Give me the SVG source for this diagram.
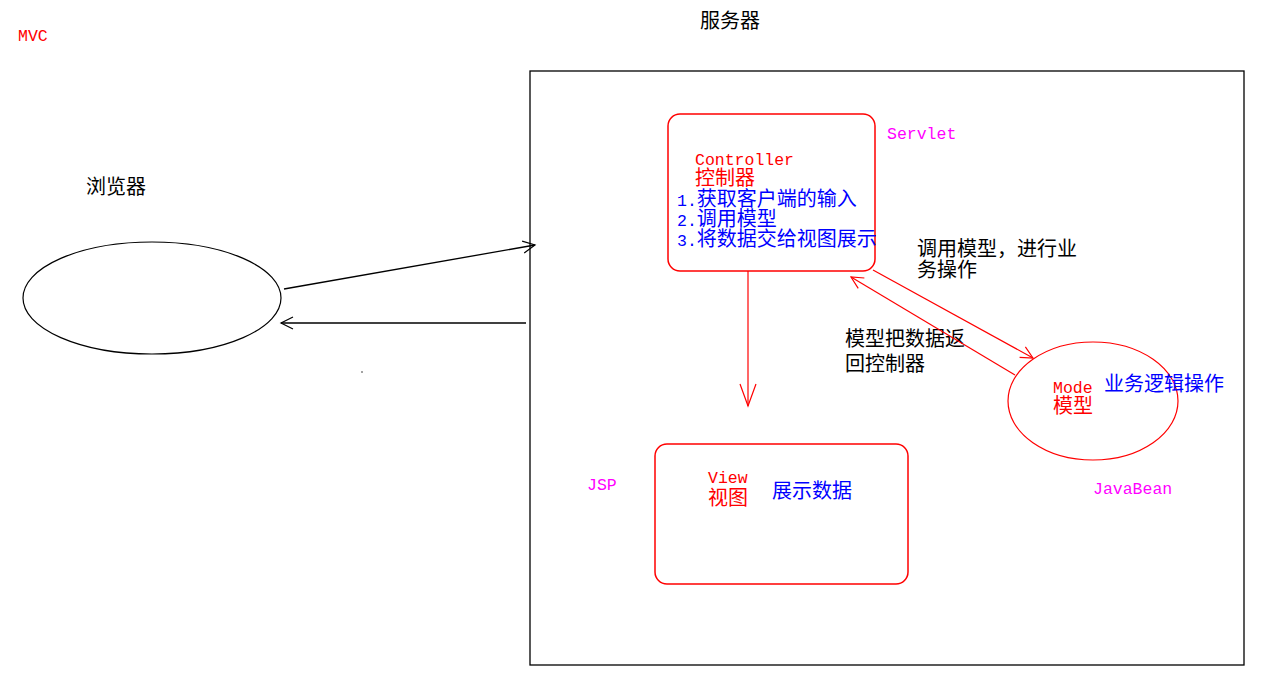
<svg xmlns="http://www.w3.org/2000/svg" width="1266" height="690" viewBox="0 0 1266 690">
<style>
.mono{font-family:"Liberation Mono","Noto Sans CJK SC",monospace;font-size:16.5px}
.cjk{font-family:"Noto Sans CJK SC","Liberation Sans",sans-serif;font-size:20px}
.red{fill:#ff0000}.blue{fill:#0000ff}.mag{fill:#ff00ff}.blk{fill:#000}
.rbox{fill:none;stroke:#ff0000;stroke-width:1.5}
.bl{stroke:#000;stroke-width:1.3;fill:none}
.rl{stroke:#ff0000;stroke-width:1.2;fill:none}
</style>
<defs>
<marker id="ab" markerUnits="userSpaceOnUse" markerWidth="20" markerHeight="20" refX="13" refY="7" orient="auto"><path d="M1,1 L13,7 L1,13" fill="none" stroke="#000" stroke-width="1.2"/></marker>
<marker id="ar" markerUnits="userSpaceOnUse" markerWidth="20" markerHeight="20" refX="13" refY="7" orient="auto"><path d="M1,1 L13,7 L1,13" fill="none" stroke="#ff0000" stroke-width="1.2"/></marker>
<marker id="arl" markerUnits="userSpaceOnUse" markerWidth="30" markerHeight="20" refX="23" refY="9" orient="auto"><path d="M1,1 L23,9 L1,17" fill="none" stroke="#ff0000" stroke-width="1.2"/></marker>
</defs>
<rect width="1266" height="690" fill="#fff"/>
<text class="mono red" x="18" y="41" font-size="15">MVC</text>
<text class="cjk blk" x="700" y="28">服务器</text>
<g id="server"><rect x="530" y="71" width="714" height="594" fill="none" stroke="#000" stroke-width="1.3"/></g>
<g id="browser">
<text class="cjk blk" x="86" y="194">浏览器</text>
<ellipse cx="152" cy="298" rx="129" ry="56" fill="none" stroke="#000" stroke-width="1.2"/>
</g>
<circle cx="362" cy="372" r="0.7" fill="#000"/>
<g id="controller">
<rect class="rbox" x="668" y="114" width="207" height="157" rx="12"/>
<text class="mono red" x="695" y="165">Controller</text>
<text class="cjk red" x="695" y="185">控制器</text>
<text class="cjk blue" x="677" y="206"><tspan class="mono">1.</tspan>获取客户端的输入</text>
<text class="cjk blue" x="677" y="226"><tspan class="mono">2.</tspan>调用模型</text>
<text class="cjk blue" x="677" y="246"><tspan class="mono">3.</tspan>将数据交给视图展示</text>
<text class="mono mag" x="887" y="139">Servlet</text>
</g>
<g id="view">
<rect class="rbox" x="655" y="444" width="253" height="140" rx="12"/>
<text class="mono red" x="708" y="483">View</text>
<text class="cjk red" x="708" y="505">视图</text>
<text class="cjk blue" x="772" y="498">展示数据</text>
<text class="mono mag" x="587" y="490">JSP</text>
</g>
<g id="model">
<ellipse cx="1093" cy="401" rx="85" ry="59" fill="none" stroke="#ff0000" stroke-width="1.2"/>
<text class="mono red" x="1053" y="393">Mode</text>
<text class="cjk red" x="1053" y="413">模型</text>
<text class="cjk blue" x="1104" y="391">业务逻辑操作</text>
<text class="mono mag" x="1093" y="494">JavaBean</text>
</g>
<g id="labels">
<text class="cjk blk" x="917" y="256">调用模型，进行业</text>
<text class="cjk blk" x="917" y="277">务操作</text>
<text class="cjk blk" x="845" y="346">模型把数据返</text>
<text class="cjk blk" x="845" y="371">回控制器</text>
</g>
<g id="connectors">
<line class="bl" x1="284" y1="289" x2="535" y2="245" marker-end="url(#ab)"/>
<line class="bl" x1="526" y1="323" x2="281" y2="323" marker-end="url(#ab)"/>
<line class="rl" x1="748" y1="271" x2="748" y2="406" marker-end="url(#arl)"/>
<line class="rl" x1="873" y1="270" x2="1033" y2="358" marker-end="url(#ar)"/>
<line class="rl" x1="1015" y1="375" x2="851" y2="277" marker-end="url(#ar)"/>
</g>
</svg>
